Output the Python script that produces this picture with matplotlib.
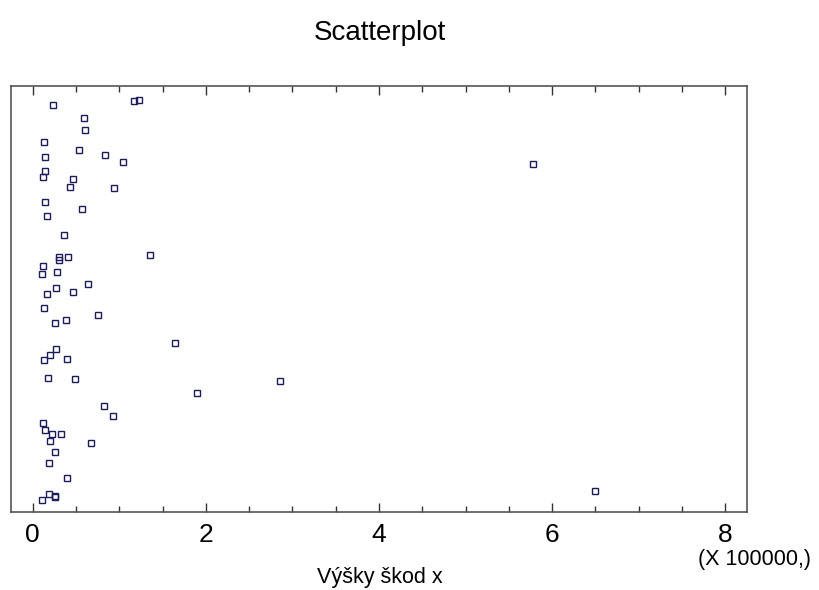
import matplotlib
matplotlib.use("Agg")
import matplotlib.pyplot as plt
from matplotlib.ticker import MultipleLocator

plt.rcParams['font.family'] = ['Liberation Sans', 'DejaVu Sans']

# hodnoty skod v jednotkach 100000 (odhad z obrazku), y = nahodny rozptyl (jitter)
skody_x = [0.231, 1.170, 1.224, 0.592, 0.607, 0.127, 0.538, 0.838, 0.142, 1.043,
           5.781, 0.142, 0.115, 0.465, 0.427, 0.939, 0.142, 0.566, 0.169, 0.361,
           0.307, 0.307, 0.411, 1.354, 0.115, 0.284, 0.104, 0.642, 0.269, 0.169,
           0.465, 0.127, 0.758, 0.258, 0.385, 1.647, 0.269, 0.203, 0.127, 0.400,
           0.180, 0.492, 2.859, 1.897, 0.823, 0.927, 0.115, 0.142, 0.219, 0.323,
           0.203, 0.670, 0.258, 0.192, 0.400, 6.493, 0.192, 0.258, 0.254, 0.104]
jitter_y = [0.956, 0.965, 0.967, 0.925, 0.897, 0.870, 0.850, 0.839, 0.833, 0.821,
            0.818, 0.800, 0.786, 0.781, 0.763, 0.760, 0.728, 0.711, 0.695, 0.650,
            0.599, 0.592, 0.598, 0.603, 0.577, 0.563, 0.559, 0.535, 0.527, 0.512,
            0.516, 0.480, 0.462, 0.445, 0.451, 0.396, 0.383, 0.369, 0.357, 0.359,
            0.315, 0.312, 0.307, 0.279, 0.250, 0.225, 0.210, 0.192, 0.183, 0.183,
            0.167, 0.162, 0.141, 0.115, 0.081, 0.050, 0.042, 0.035, 0.038, 0.029]
x_ticks = [0, 2, 4, 6, 8]

fig = plt.figure(figsize=(8.2, 5.9), dpi=100)
ax = fig.add_axes([0.014, 0.132, 0.897, 0.722])

ax.plot(skody_x, jitter_y, linestyle='none', marker='s', markersize=3.9,
        markerfacecolor='none', markeredgecolor='#1c1c5a', markeredgewidth=1.0)

ax.set_xlim(-0.245, 8.25)
ax.set_ylim(0, 1)
ax.set_xticks(x_ticks)
ax.set_xticklabels([str(t) for t in x_ticks], fontsize=19)
ax.xaxis.set_minor_locator(MultipleLocator(0.5))
ax.tick_params(axis='x', which='major', direction='in', length=6.5, width=1,
               top=True, pad=8, colors='#333333', labelcolor='black')
ax.tick_params(axis='x', which='minor', direction='in', length=4, width=1,
               top=True, colors='#333333')
ax.set_yticks([])
for s in ax.spines.values():
    s.set_color('#555555')
    s.set_linewidth(1.2)

fig.text(379.5 / 820, 1 - 33 / 590, 'Scatterplot', ha='center', va='center', fontsize=20)
fig.text(379.5 / 820, 1 - 578 / 590, 'Výšky škod x', ha='center', va='center', fontsize=15.5)
fig.text(755 / 820, 1 - 560 / 590, '(X 100000,)', ha='center', va='center', fontsize=15.5)

fig.savefig('out.png', dpi=100)
